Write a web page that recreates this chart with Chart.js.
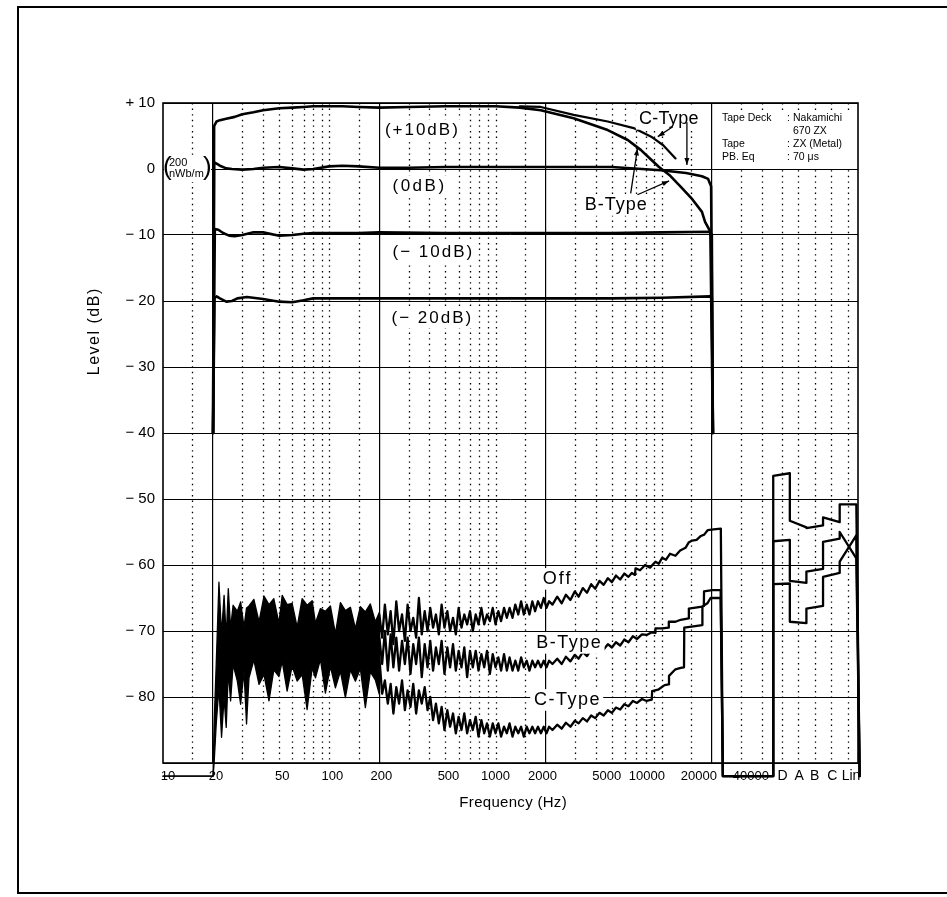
<!DOCTYPE html>
<html>
<head>
<meta charset="utf-8">
<script src="https://cdn.jsdelivr.net/npm/chart.js@4.4.1/dist/chart.umd.min.js"></script>
<style>
  html, body { margin: 0; padding: 0; background: #fff; }
  #frame { position: absolute; left: 17px; top: 6px; width: 980px; height: 884px; border: 2px solid #000; border-right: none; }
  #wrap { position: absolute; left: 0; top: 0; width: 947px; height: 897px; }
</style>
</head>
<body>
<div id="frame"></div>
<div id="wrap"><canvas id="chart" width="947" height="897"></canvas></div>
<script>
// axis layout
const xMin = 10;
const xMax = 151400;
const majorGridFreq = [20, 200, 2000, 20000];
const minorGridFreq = [15, 30, 40, 50, 60, 70, 80, 90, 100, 150, 300, 400, 500, 600, 700, 800, 900, 1000, 1500,
  3000, 4000, 5000, 6000, 7000, 8000, 9000, 10000, 15000, 30000, 40000];
const freqTicks = [10, 20, 50, 100, 200, 500, 1000, 2000, 5000, 10000, 20000, 40000];
const freqLabelShift = [5, 3, 3, 3, 2, 3, 0, -3, -5, -15, -13, -11];
const weightLabels = ['D', 'A', 'B', 'C', 'Lin'];
const weightLabelShift = [1, 1, 0, 1, 3];
// slots of the weighted noise readings, placed after 40000 on the frequency axis
const weightEdges = [46800, 58900, 74100, 93300, 117500, 147900];
const weightCenters = weightLabels.map((l, i) => Math.sqrt(weightEdges[i] * weightEdges[i + 1]));

// playback response at four input levels
const plus10Freq = [20, 20.3, 21, 22, 24, 27, 30, 35, 40, 50, 60, 70, 80, 100, 120, 150, 200, 300, 500, 700, 1000, 1400, 1870,
  2950, 4730, 6240, 7470, 8640, 9580, 11100, 13020, 15050, 17440, 18210, 19590, 20300];
const plus10Level = [-40, 6.5, 7.2, 7.4, 7.6, 7.9, 8.3, 8.6, 8.9, 9.2, 9.3, 9.4, 9.5, 9.5, 9.5, 9.4, 9.3, 9.4, 9.5, 9.5, 9.5, 9.3, 8.9,
  7.7, 5.9, 4.4, 2.9, 1.4, 0.35, -0.9, -2.7, -4.4, -6.5, -8.0, -9.5, -40];
const cPlus10Freq = [1400, 1870, 2950, 4730, 6770, 8640, 10200, 12100];
const cPlus10Level = [9.5, 9.4, 8.2, 7.2, 6.2, 4.9, 3.6, 1.6];
const zeroFreq = [20, 20.3, 21, 22, 24, 26, 30, 35, 40, 50, 60, 70, 80, 100, 120, 150, 200, 300, 500, 1000,
  2000, 5000, 9860, 14000, 17440, 18990, 19800, 20300];
const zeroLevel = [-40, 1.0, 0.8, 0.5, 0.1, 0, -0.1, 0, 0.2, 0.3, 0.1, -0.1, 0, 0.4, 0.5, 0.4, 0.2, 0.2, 0.3, 0.3,
  0.3, 0.3, -0.2, -0.6, -1.1, -1.5, -2.6, -40];
const minus10Freq = [20, 20.5, 21.5, 23, 25, 27, 30, 35, 40, 50, 60, 70, 80, 100, 150, 200, 500, 1000, 2000, 5000,
  10000, 19500, 20000, 20300];
const minus10Level = [-40, -9.1, -9.2, -9.7, -10.1, -10.2, -10, -9.6, -9.6, -10.1, -10, -9.8, -9.7, -9.7, -9.7, -9.6, -9.7, -9.7, -9.7, -9.7,
  -9.6, -9.5, -10, -40];
const minus20Freq = [20, 20.4, 21, 22, 24, 26, 28, 32, 40, 50, 60, 70, 80, 100, 200, 500, 1000, 2000, 5000, 10000,
  19500, 20000, 20300];
const minus20Level = [-40, -19.6, -19.3, -19.6, -20.1, -20, -19.6, -19.4, -19.7, -20.1, -20.2, -19.9, -19.6, -19.6, -19.6, -19.6, -19.6, -19.6, -19.6, -19.5,
  -19.3, -19.6, -40];

// noise floor below 200 Hz, common to all three traces (upper / lower edge of the band)
const lowFreq = [10, 20, 20.3, 20.9, 21.7, 22.5, 23.3, 24.0, 24.7, 25.5, 26.4, 28.0, 29.3, 30.7, 31.8, 32.9, 35.2, 37.8, 40.5, 43.4,
  46.4, 49.8, 52.1, 55.8, 59.8, 64.1, 68.7, 73.6, 78.9, 82.6, 88.5, 94.8, 101.6, 108.9, 116.7, 125, 134, 143.6, 153.8, 164.8,
  176.6, 189.2, 200];
const lowUpper = [-92, -92, -84, -75, -62.6, -70.5, -64.6, -71, -63.6, -69.6, -66.1, -67.0, -65.6, -69.4, -66.5, -66.2, -65.2, -68.6, -64.7, -66.0,
  -65.1, -68.8, -64.6, -66.0, -65.8, -69.4, -65.1, -66.1, -65.4, -68.8, -66.6, -67.0, -66.2, -70.4, -65.7, -66.9, -66.4, -69.6, -66.3, -67.1,
  -65.9, -68.6, -67.2];
const lowLower = [-92, -92, -90, -84.1, -78.6, -86.1, -80.1, -84.6, -76.1, -80.6, -75.1, -77.6, -81.1, -76.1, -84.1, -77.1, -74.4, -78.1, -76.6, -80.6,
  -75.9, -76.9, -74.6, -79.1, -75.3, -77.6, -76.6, -81.9, -75.6, -77.1, -74.3, -79.4, -75.4, -78.6, -76.1, -80.1, -75.9, -77.6, -75.7, -81.6,
  -76.2, -77.4, -79.6];

// noise traces 200 - 2100 Hz
const midFreq = [200, 208, 216, 225, 234, 243, 253, 263, 274, 285, 296, 308, 320, 333, 346, 360, 375, 390, 405, 421,
  438, 456, 474, 493, 513, 533, 555, 577, 600, 624, 649, 675, 702, 730, 760, 790, 822, 855, 889, 925,
  962, 1000, 1040, 1080, 1125, 1170, 1215, 1265, 1315, 1370, 1425, 1480, 1540, 1600, 1665, 1730, 1800, 1875, 1950, 2025, 2100];
const offMid = [-67.5, -71, -66, -70.5, -67, -72, -65.5, -70, -67.5, -71.5, -66, -70, -68, -71, -65, -70.5, -67, -70, -66.5, -69.5,
  -67.5, -70.5, -66, -69.5, -67, -70, -68, -70.5, -66.5, -69.5, -67.5, -69, -67, -70, -67.5, -69, -66.5, -69, -67.5, -68.5,
  -66.5, -69, -67, -68.5, -66.5, -68, -66.5, -68, -66, -67.5, -65.5, -67.5, -66, -67.5, -65.5, -67, -65.5, -66.5, -65, -66.5, -65.5];
const bMid = [-71, -75, -70, -76, -70.5, -75.5, -71, -76, -71.5, -75, -71, -76.5, -72, -75, -71, -77, -72, -75.5, -71.5, -76,
  -72.5, -75, -71.5, -76.5, -72.5, -75.5, -72, -76, -73, -75.5, -72.5, -77, -73, -75.5, -73, -76, -73.5, -75.5, -73, -76.5,
  -73.5, -75.5, -74, -76, -73.5, -76, -74, -76, -74.5, -76, -74, -75.5, -74.5, -76, -74.5, -75.5, -74.5, -75.5, -74.5, -75.5, -74.5];
const cMid = [-74, -79.5, -77.5, -81, -78, -82.5, -78.5, -81, -77.5, -82, -79, -81.5, -78, -82.5, -79, -81, -78.5, -82, -80, -83.5,
  -81, -84, -81.5, -85, -82, -84.5, -82.5, -85.5, -83, -85, -82.5, -85.5, -83.5, -85, -83, -86, -83.5, -85.5, -84, -86,
  -84, -85.5, -84, -86, -84.5, -85.5, -84, -86, -84.5, -85.5, -84.5, -86, -84.5, -85.5, -84.5, -85.5, -84.5, -85.5, -84.5, -85.5, -84.5];

// noise traces above 2100 Hz (down to the floor after 23 kHz)
const offHighFreq = [2200, 2350, 2500, 2650, 2820, 3000, 3160, 3350, 3550, 3760, 3980, 4220, 4470, 4740, 5010, 5300, 5620, 5950, 6300, 6600,
  6900, 6950, 7400, 7940, 8500, 9160, 9600, 10050, 10600, 11200, 12080, 12900, 13890, 14500, 15240, 16200, 17180, 18000, 18920, 20500,
  22650, 23300, 46800];
const offHigh = [-66, -64.8, -65.8, -64.5, -65.3, -64, -64.8, -63.5, -64.2, -62.9, -63.6, -62.4, -63, -62, -62.6, -61.6, -62.2, -61.3, -61.8, -61.2,
  -61.5, -60.5, -60.8, -60, -60.4, -59.5, -59.8, -58.9, -59.2, -58.3, -58.6, -57.8, -57.4, -56.6, -56.3, -56.2, -55.6, -55.4, -54.7, -54.6,
  -54.5, -92, -92];
const bHighFreq = [2200, 2350, 2500, 2650, 2820, 3000, 3160, 3350, 3550, 3760, 3980, 4220, 4470, 4740, 5010, 5300, 5620, 5950, 6300, 6700,
  7100, 7600, 8100, 8720, 9150, 9160, 10050, 11000, 11020, 12080, 13000, 14500, 14550, 17500, 17900, 17950, 20060, 22600, 23300, 46800];
const bHigh = [-75, -74.2, -75, -73.9, -74.6, -73.6, -74.2, -73.2, -73.8, -72.8, -73.2, -72.3, -72.8, -72, -72.5, -71.7, -72.2, -71.3, -71.7, -70.8,
  -71.2, -70.5, -70.6, -70.2, -70.3, -69.6, -69.6, -69.5, -68.6, -68.6, -68.3, -68.1, -66.6, -66.3, -66.2, -64, -63.8, -63.8, -92, -92];
const cHighFreq = [2200, 2350, 2500, 2650, 2820, 3000, 3160, 3350, 3550, 3760, 3980, 4220, 4470, 4740, 5010, 5300, 5620, 5950, 6300, 6700,
  7100, 7600, 8100, 8700, 8750, 9500, 10400, 11000, 11050, 12080, 13000, 13600, 13650, 15500, 17500, 17550, 18800, 19650, 22600, 23300, 46800];
const cHigh = [-85, -84.2, -84.8, -83.9, -84.5, -83.6, -84, -83.2, -83.7, -82.8, -83.2, -82.4, -82.8, -82, -82.4, -81.6, -81.9, -81.1, -81.4, -80.6,
  -80.9, -80.3, -80.6, -80.4, -79.1, -78.9, -78.2, -78.1, -76.8, -75.8, -75.6, -75.5, -69.5, -69.3, -69.1, -66.3, -65.8, -65, -65, -92, -92];

// weighted noise readings [start, end] per slot: D, A, B, C, Lin
const offWeighted = [[-46.5, -46.1], [-53.3, -54.3], [-54.4, -54.0], [-52.8, -53.5], [-50.8, -50.8]];
const bWeighted = [[-56.4, -56.2], [-62.4, -62.7], [-61.0, -60.6], [-56.5, -56.0], [-55.0, -59.0]];
const cWeighted = [[-62.9, -62.8], [-68.6, -68.8], [-66.6, -66.2], [-61.8, -61.2], [-59.5, -55.5]];
const tailFreq = [155000, 185000];
const tailLevel = [-92, -92];

const FONT = '"Liberation Sans", Arial, Helvetica, sans-serif';

function pts(freqs, levels) {
  return freqs.map((f, i) => ({ x: f, y: levels[i] }));
}
function weightPts(readings) {
  const out = [];
  readings.forEach((r, i) => {
    out.push({ x: weightEdges[i], y: r[0] });
    out.push({ x: weightEdges[i + 1], y: r[1] });
  });
  return out.concat(pts(tailFreq, tailLevel));
}
function noiseTrace(mid, hiFreq, hi, weighted) {
  return pts(midFreq, mid).concat(pts(hiFreq, hi), weightPts(weighted));
}

function line(data, width, extra) {
  return Object.assign({
    data: data, borderColor: '#000', borderWidth: width, pointRadius: 0,
    tension: 0, fill: false, borderJoinStyle: 'round', borderCapStyle: 'round'
  }, extra || {});
}

const datasets = [
  line(pts(lowFreq, lowUpper), 1.3, { fill: '+1', backgroundColor: '#000', clip: false }),
  line(pts(lowFreq, lowLower), 1.3, { clip: false }),
  line(noiseTrace(offMid, offHighFreq, offHigh, offWeighted), 2.3, { clip: false }),
  line(noiseTrace(bMid, bHighFreq, bHigh, bWeighted), 2.3, { clip: false }),
  line(noiseTrace(cMid, cHighFreq, cHigh, cWeighted), 2.3, { clip: false }),
  line(pts(plus10Freq, plus10Level), 2.6),
  line(pts(cPlus10Freq, cPlus10Level), 2.2),
  line(pts(zeroFreq, zeroLevel), 2.6),
  line(pts(minus10Freq, minus10Level), 2.6),
  line(pts(minus20Freq, minus20Level), 2.6)
];

// text placed on the chart (frequency, level)
const notes = [
  { t: '(+10dB)', f: 358, db: 5.9, size: 17, ls: 2 },
  { t: '(0dB)', f: 343, db: -2.6, size: 17, ls: 2.5 },
  { t: '(\u2212 10dB)', f: 417, db: -12.6, size: 17, ls: 2 },
  { t: '(\u2212 20dB)', f: 411, db: -22.6, size: 17, ls: 2 },
  { t: 'C-Type', f: 11010, db: 7.6, size: 18, ls: 0.3 },
  { t: 'B-Type', f: 5280, db: -5.45, size: 18, ls: 1 },
  { t: 'Off', f: 2330, db: -62.1, size: 18, ls: 2 },
  { t: 'B-Type', f: 2750, db: -71.8, size: 18, ls: 1.5 },
  { t: 'C-Type', f: 2680, db: -80.45, size: 18, ls: 1.5 }
];
const arrows = [
  { from: [11640, 6.4], to: [9460, 4.9] },
  { from: [14160, 7.1], to: [14160, 0.6] },
  { from: [6500, -3.7], to: [7140, 3.1] },
  { from: [7140, -3.9], to: [11070, -1.8] }
];
const infoRows = [['Tape Deck', 'Nakamichi'], ['', '670 ZX'], ['Tape', 'ZX (Metal)'], ['PB. Eq', '70 \u03bcs']];

function drawArrow(ctx, x1, y1, x2, y2) {
  ctx.beginPath(); ctx.moveTo(x1, y1); ctx.lineTo(x2, y2); ctx.stroke();
  const a = Math.atan2(y2 - y1, x2 - x1);
  ctx.beginPath();
  ctx.moveTo(x2, y2);
  ctx.lineTo(x2 - 7 * Math.cos(a) + 2.5 * Math.sin(a), y2 - 7 * Math.sin(a) - 2.5 * Math.cos(a));
  ctx.lineTo(x2 - 7 * Math.cos(a) - 2.5 * Math.sin(a), y2 - 7 * Math.sin(a) + 2.5 * Math.cos(a));
  ctx.closePath(); ctx.fill();
}

function drawText(ctx, text, px, py, size, spacing, bg) {
  ctx.font = size + 'px ' + FONT;
  ctx.letterSpacing = spacing + 'px';
  ctx.textAlign = 'center';
  ctx.textBaseline = 'middle';
  const w = ctx.measureText(text).width;
  if (bg) {
    ctx.fillStyle = '#fff';
    ctx.fillRect(px - w / 2 - 3, py - size * 0.6, w + 6, size * 1.2);
  }
  ctx.fillStyle = '#000';
  ctx.fillText(text, px + spacing / 2, py);
  ctx.letterSpacing = '0px';
}

const paperPlugin = {
  id: 'paper',
  beforeDatasetsDraw(chart) {
    const { ctx, chartArea: a, scales: { x } } = chart;
    ctx.save();
    ctx.strokeStyle = '#000';
    ctx.lineWidth = 1.3;
    ctx.setLineDash([1.4, 4.2]);
    minorGridFreq.concat(weightCenters).forEach(f => {
      const px = Math.round(x.getPixelForValue(f)) + 0.5;
      ctx.beginPath(); ctx.moveTo(px, a.top); ctx.lineTo(px, a.bottom); ctx.stroke();
    });
    ctx.restore();
  },
  afterDraw(chart) {
    const { ctx, chartArea: a, scales: { x, y } } = chart;
    ctx.save();
    ctx.strokeStyle = '#000';
    ctx.lineWidth = 1.6;
    ctx.strokeRect(a.left, a.top, a.right - a.left, a.bottom - a.top);

    // frequency labels
    ctx.font = '13px ' + FONT;
    ctx.fillStyle = '#000';
    ctx.textAlign = 'center';
    ctx.textBaseline = 'middle';
    freqTicks.forEach((f, i) => ctx.fillText(String(f), x.getPixelForValue(f) + freqLabelShift[i], a.bottom + 13));
    ctx.font = '14px ' + FONT;
    weightCenters.forEach((f, i) => ctx.fillText(weightLabels[i], x.getPixelForValue(f) + weightLabelShift[i], a.bottom + 13));

    // axis titles
    drawText(ctx, 'Frequency (Hz)', 513, a.bottom + 40, 15, 0.3, false);
    ctx.save();
    ctx.translate(a.left - 68, a.top + 229);
    ctx.rotate(-Math.PI / 2);
    drawText(ctx, 'Level (dB)', 0, 0, 16, 1.5, false);
    ctx.restore();

    // 0 dB reference
    const z = y.getPixelForValue(0);
    ctx.fillStyle = '#fff';
    ctx.fillRect(a.left + 1, z - 12, 47, 25);
    ctx.fillStyle = '#000';
    ctx.textAlign = 'left';
    ctx.textBaseline = 'middle';
    ctx.font = '26px ' + FONT;
    ctx.fillText('(', a.left, z - 1);
    ctx.fillText(')', a.left + 40, z - 1);
    ctx.font = '11px ' + FONT;
    ctx.fillText('200', a.left + 6, z - 6);
    ctx.fillText('nWb/m', a.left + 6, z + 5);

    // curve labels
    notes.forEach(n => drawText(ctx, n.t, x.getPixelForValue(n.f), y.getPixelForValue(n.db), n.size, n.ls, true));

    // arrows
    ctx.strokeStyle = '#000';
    ctx.fillStyle = '#000';
    ctx.lineWidth = 1.3;
    arrows.forEach(r => drawArrow(ctx,
      x.getPixelForValue(r.from[0]), y.getPixelForValue(r.from[1]),
      x.getPixelForValue(r.to[0]), y.getPixelForValue(r.to[1])));

    // measurement conditions
    ctx.fillStyle = '#fff';
    ctx.fillRect(a.right - 141, a.top + 7, 139, 57);
    ctx.fillStyle = '#000';
    ctx.font = '10.5px ' + FONT;
    ctx.textAlign = 'left';
    infoRows.forEach((r, i) => {
      const ry = a.top + 15 + i * 13.2;
      ctx.fillText(r[0], a.right - 136, ry);
      if (r[0]) ctx.fillText(':', a.right - 71, ry);
      ctx.fillText(r[1], a.right - 65, ry);
    });
    ctx.restore();
  }
};

new Chart(document.getElementById('chart').getContext('2d'), {
  type: 'line',
  data: { datasets: datasets },
  options: {
    responsive: false,
    animation: false,
    layout: { padding: { left: 103, top: 103, right: 89, bottom: 134 } },
    plugins: { legend: { display: false }, tooltip: { enabled: false } },
    scales: {
      x: {
        type: 'logarithmic',
        min: xMin,
        max: xMax,
        afterBuildTicks: s => { s.ticks = majorGridFreq.map(v => ({ value: v })); },
        afterFit: s => { s.height = 0; },
        ticks: { display: false },
        grid: { color: '#000', lineWidth: 1.2, drawTicks: false },
        border: { display: false }
      },
      y: {
        type: 'linear',
        min: -90,
        max: 10,
        afterFit: s => { s.width = 60; },
        ticks: {
          stepSize: 10,
          padding: 8,
          color: '#000',
          font: { family: FONT, size: 15 },
          callback: v => v === -90 ? '' : v > 0 ? '+ ' + v : v < 0 ? '\u2212 ' + Math.abs(v) : '0'
        },
        grid: { color: '#000', lineWidth: 1, drawTicks: false },
        border: { display: false }
      }
    }
  },
  plugins: [paperPlugin]
});
</script>
</body>
</html>
